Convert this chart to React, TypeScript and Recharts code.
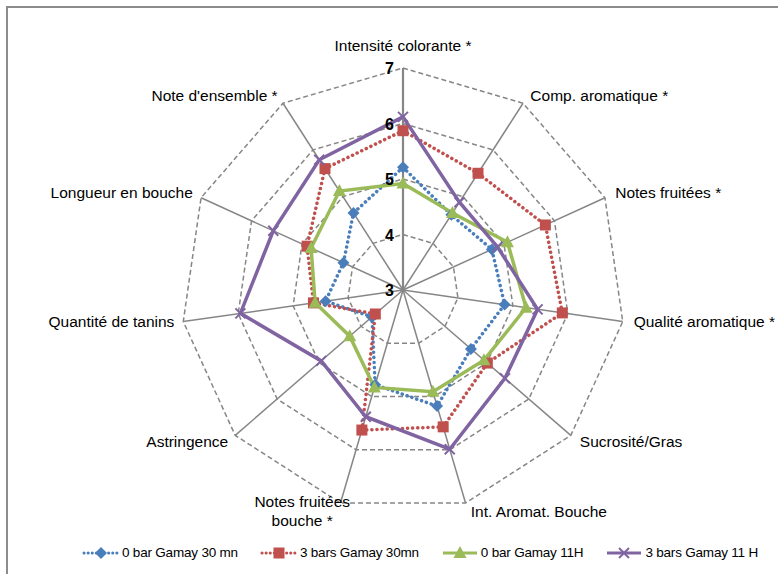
import React from 'react';
import {
  RadarChart,
  Radar,
  PolarGrid,
  PolarAngleAxis,
  PolarRadiusAxis,
  Legend
} from 'recharts';

// --- Data ---
const criteria = [
  'Intensité colorante *',
  'Comp. aromatique *',
  'Notes fruitées *',
  'Qualité aromatique *',
  'Sucrosité/Gras',
  'Int. Aromat. Bouche',
  'Notes fruitées\nbouche *',
  'Astringence',
  'Quantité de tanins',
  'Longueur en bouche',
  "Note d'ensemble *",
];

const bar0Gamay30 = [5.21, 4.61, 4.76, 4.85, 4.62, 5.18, 4.78, 3.74, 4.41, 4.18, 4.65];
const bar3Gamay30 = [5.87, 5.5, 5.82, 5.9, 5.01, 5.57, 5.63, 3.66, 4.63, 4.9, 5.6];
const bar0Gamay11 = [4.92, 4.65, 5.07, 5.24, 4.93, 4.91, 4.83, 4.27, 4.6, 4.82, 5.12];
const bar3Gamay11 = [6.12, 4.88, 4.87, 5.45, 5.43, 5.99, 5.38, 4.95, 5.96, 5.57, 5.79];

const radiusTicks = [3, 4, 5, 6, 7];

const seriesNames = ['0 bar Gamay 30 mn', '3 bars Gamay 30mn', '0 bar Gamay 11H', '3 bars Gamay 11 H'];

const data = criteria.map((name, i) => ({
  name,
  s0: bar0Gamay30[i],
  s1: bar3Gamay30[i],
  s2: bar0Gamay11[i],
  s3: bar3Gamay11[i],
}));

const BLUE = '#4A7EBB';
const RED = '#C0504D';
const GREEN = '#9BBB59';
const PURPLE = '#8064A2';
const GRID = '#868686';
const FONT = '"Liberation Sans", Arial, sans-serif';
const CY = 290;

// --- Markers ---
const Diamond = ({ cx, cy, color }: any) => (
  <polygon points={`${cx},${cy - 6} ${cx + 6},${cy} ${cx},${cy + 6} ${cx - 6},${cy}`} fill={color} />
);
const Square = ({ cx, cy, color }: any) => (
  <rect x={cx - 5.5} y={cy - 5.5} width={11} height={11} fill={color} />
);
const Triangle = ({ cx, cy, color }: any) => (
  <polygon points={`${cx},${cy - 7} ${cx + 6.5},${cy + 5} ${cx - 6.5},${cy + 5}`} fill={color} />
);
const Cross = ({ cx, cy, color }: any) => (
  <g stroke={color} strokeWidth={2}>
    <line x1={cx - 5} y1={cy - 5} x2={cx + 5} y2={cy + 5} />
    <line x1={cx - 5} y1={cy + 5} x2={cx + 5} y2={cy - 5} />
  </g>
);

const markerDot = (Shape: any, color: string) => (props: any) => (
  <Shape key={`m-${props.index}-${color}`} cx={props.cx} cy={props.cy} color={color} />
);

// --- Ticks ---
const AngleTick = (props: any) => {
  const { x, y, textAnchor, payload } = props;
  const lines = String(payload.value).split('\n');
  if (lines.length > 1) {
    return (
      <text x={x - 36} y={y - 4} textAnchor="middle" fontSize={15.5} fontFamily={FONT} fill="#000">
        {lines.map((l, i) => (
          <tspan key={i} x={x - 36} dy={i === 0 ? 0 : 19}>{l}</tspan>
        ))}
      </text>
    );
  }
  let dy = 4;
  if (textAnchor === 'middle') dy = -9;
  else if (y > CY + 50) dy = 6;
  const dx = textAnchor === 'start' ? 3 : textAnchor === 'end' ? -1 : 0;
  return (
    <text x={x + dx} y={y + dy} textAnchor={textAnchor} fontSize={15.5} fontFamily={FONT} fill="#000">
      {payload.value}
    </text>
  );
};

const RadiusTick = (props: any) => {
  const { x, y, payload } = props;
  return (
    <text x={x - 9} y={y + 6} textAnchor="end" fontSize={16} fontWeight="bold" fontFamily={FONT} fill="#000">
      {payload.value}
    </text>
  );
};

// --- Legend ---
const legendItems = [
  { name: seriesNames[0], color: BLUE, dotted: true, Shape: Diamond },
  { name: seriesNames[1], color: RED, dotted: true, Shape: Square },
  { name: seriesNames[2], color: GREEN, dotted: false, Shape: Triangle },
  { name: seriesNames[3], color: PURPLE, dotted: false, Shape: Cross },
];

const LegendContent = () => (
  <div style={{ display: 'flex', alignItems: 'center', fontFamily: FONT, fontSize: 13.5, letterSpacing: -0.2 }}>
    {legendItems.map((it, i) => (
      <div key={i} style={{ display: 'flex', alignItems: 'center', marginRight: 22 }}>
        <svg width={38} height={14} style={{ marginRight: 2 }}>
          <line
            x1={2}
            y1={7}
            x2={36}
            y2={7}
            stroke={it.color}
            strokeWidth={3}
            strokeDasharray={it.dotted ? '0.1 4' : undefined}
            strokeLinecap={it.dotted ? 'round' : 'butt'}
          />
          <it.Shape cx={19} cy={7} color={it.color} />
        </svg>
        <span>{it.name}</span>
      </div>
    ))}
  </div>
);

const App: React.FC = () => {
  return (
    <div style={{ position: 'absolute', left: 0, top: 0, width: 778, height: 574, overflow: 'hidden', background: '#fff' }}>
      <div style={{ position: 'absolute', left: 6, top: 6, width: 900, height: 900, border: '2px solid #8c8c8c' }} />
      <RadarChart width={778} height={574} data={data} cx={403} cy={CY} outerRadius={222}>
        <PolarGrid gridType="polygon" radialLines={false} stroke={GRID} strokeWidth={1.5} strokeDasharray="5 3" />
        <PolarGrid gridType="polygon" polarRadius={[]} stroke={GRID} strokeWidth={1.5} />
        <PolarAngleAxis dataKey="name" tick={<AngleTick />} tickLine={false} axisLine={false} />
        <PolarRadiusAxis
          angle={90}
          domain={[3, 7]}
          ticks={radiusTicks}
          tickCount={5}
          tick={<RadiusTick />}
          tickLine={false}
          axisLine={{ stroke: GRID, strokeWidth: 2.2 }}
        />
        <Radar
          name={seriesNames[0]}
          dataKey="s0"
          stroke={BLUE}
          strokeWidth={3.5}
          strokeDasharray="0.1 5"
          strokeLinecap="round"
          fill="none"
          fillOpacity={0}
          dot={markerDot(Diamond, BLUE)}
          isAnimationActive={false}
        />
        <Radar
          name={seriesNames[1]}
          dataKey="s1"
          stroke={RED}
          strokeWidth={3.5}
          strokeDasharray="0.1 5"
          strokeLinecap="round"
          fill="none"
          fillOpacity={0}
          dot={markerDot(Square, RED)}
          isAnimationActive={false}
        />
        <Radar
          name={seriesNames[2]}
          dataKey="s2"
          stroke={GREEN}
          strokeWidth={3.5}
          fill="none"
          fillOpacity={0}
          dot={markerDot(Triangle, GREEN)}
          isAnimationActive={false}
        />
        <Radar
          name={seriesNames[3]}
          dataKey="s3"
          stroke={PURPLE}
          strokeWidth={3.5}
          fill="none"
          fillOpacity={0}
          dot={markerDot(Cross, PURPLE)}
          isAnimationActive={false}
        />
        <Legend content={<LegendContent />} wrapperStyle={{ position: 'absolute', left: 82, top: 545, width: 700 }} />
      </RadarChart>
    </div>
  );
};

export default App;
